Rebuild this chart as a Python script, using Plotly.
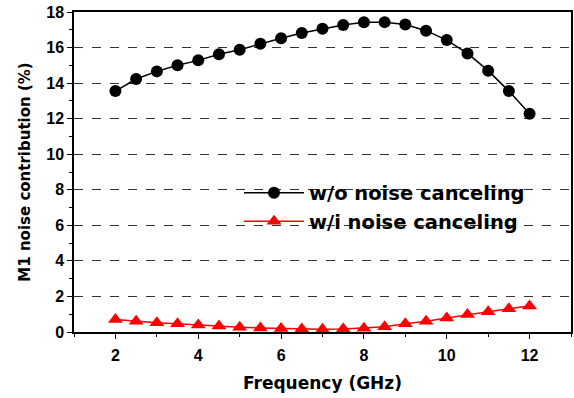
import plotly.graph_objects as go

freq = [2, 2.5, 3, 3.5, 4, 4.5, 5, 5.5, 6, 6.5, 7, 7.5, 8, 8.5, 9, 9.5, 10, 10.5, 11, 11.5, 12]
wo_nc = [13.55, 14.23, 14.66, 15.0, 15.28, 15.62, 15.88, 16.22, 16.52, 16.82, 17.06,
         17.27, 17.42, 17.43, 17.3, 16.95, 16.42, 15.67, 14.7, 13.55, 12.28]
wi_nc = [0.7, 0.6, 0.52, 0.46, 0.39, 0.34, 0.27, 0.23, 0.19, 0.17, 0.15,
         0.17, 0.21, 0.29, 0.46, 0.6, 0.79, 0.98, 1.14, 1.31, 1.46]

font_family = "DejaVu Sans, Arial, sans-serif"
tick_family = "Liberation Sans, Arial, sans-serif"

fig = go.Figure()
fig.add_trace(go.Scatter(
    x=freq, y=wo_nc, mode="lines+markers", name="w/o noise canceling",
    line=dict(color="black", width=1.5),
    marker=dict(symbol="circle", size=12, color="black"),
))
fig.add_trace(go.Scatter(
    x=freq, y=wi_nc, mode="lines+markers", name="w/i noise canceling",
    line=dict(color="red", width=1.5),
    marker=dict(symbol="triangle-up", size=13, color="red"),
))

axis_common = dict(
    showline=True, linecolor="black", linewidth=1.5, mirror=True,
    ticks="outside", ticklen=5, tickwidth=1.2, tickcolor="black",
    tickfont=dict(family=tick_family, size=16, color="black", weight="bold"),
    zeroline=False,
)

fig.update_xaxes(
    range=[1, 13], dtick=2, tick0=0, showgrid=False,
    minor=dict(ticks="outside", ticklen=3, dtick=1, tick0=0, tickcolor="black"),
    title=dict(text="Frequency (GHz)", font=dict(family=font_family, size=17, color="black", weight="bold"), standoff=14),
    ticklabelstandoff=3,
    **axis_common,
)
fig.update_yaxes(
    range=[0, 18], dtick=2, tick0=0, showgrid=True, gridcolor="#333333",
    griddash="dash", gridwidth=0.8,
    minor=dict(ticks="outside", ticklen=3, dtick=1, tick0=0, tickcolor="black"),
    title=dict(text="M1 noise contribution (%)", font=dict(family=font_family, size=15, color="black", weight="bold"), standoff=12),
    **axis_common,
)

fig.update_layout(
    width=574, height=398,
    margin=dict(l=74, r=1, t=12, b=66),
    plot_bgcolor="white", paper_bgcolor="white",
    legend=dict(
        x=0.332, y=0.495, xanchor="left", yanchor="top",
        bgcolor="rgba(0,0,0,0)", itemwidth=60,
        font=dict(family=font_family, size=19.5, color="black", weight="bold"),
        tracegroupgap=0,
    ),
    showlegend=True,
)

fig.write_html("out.html")
